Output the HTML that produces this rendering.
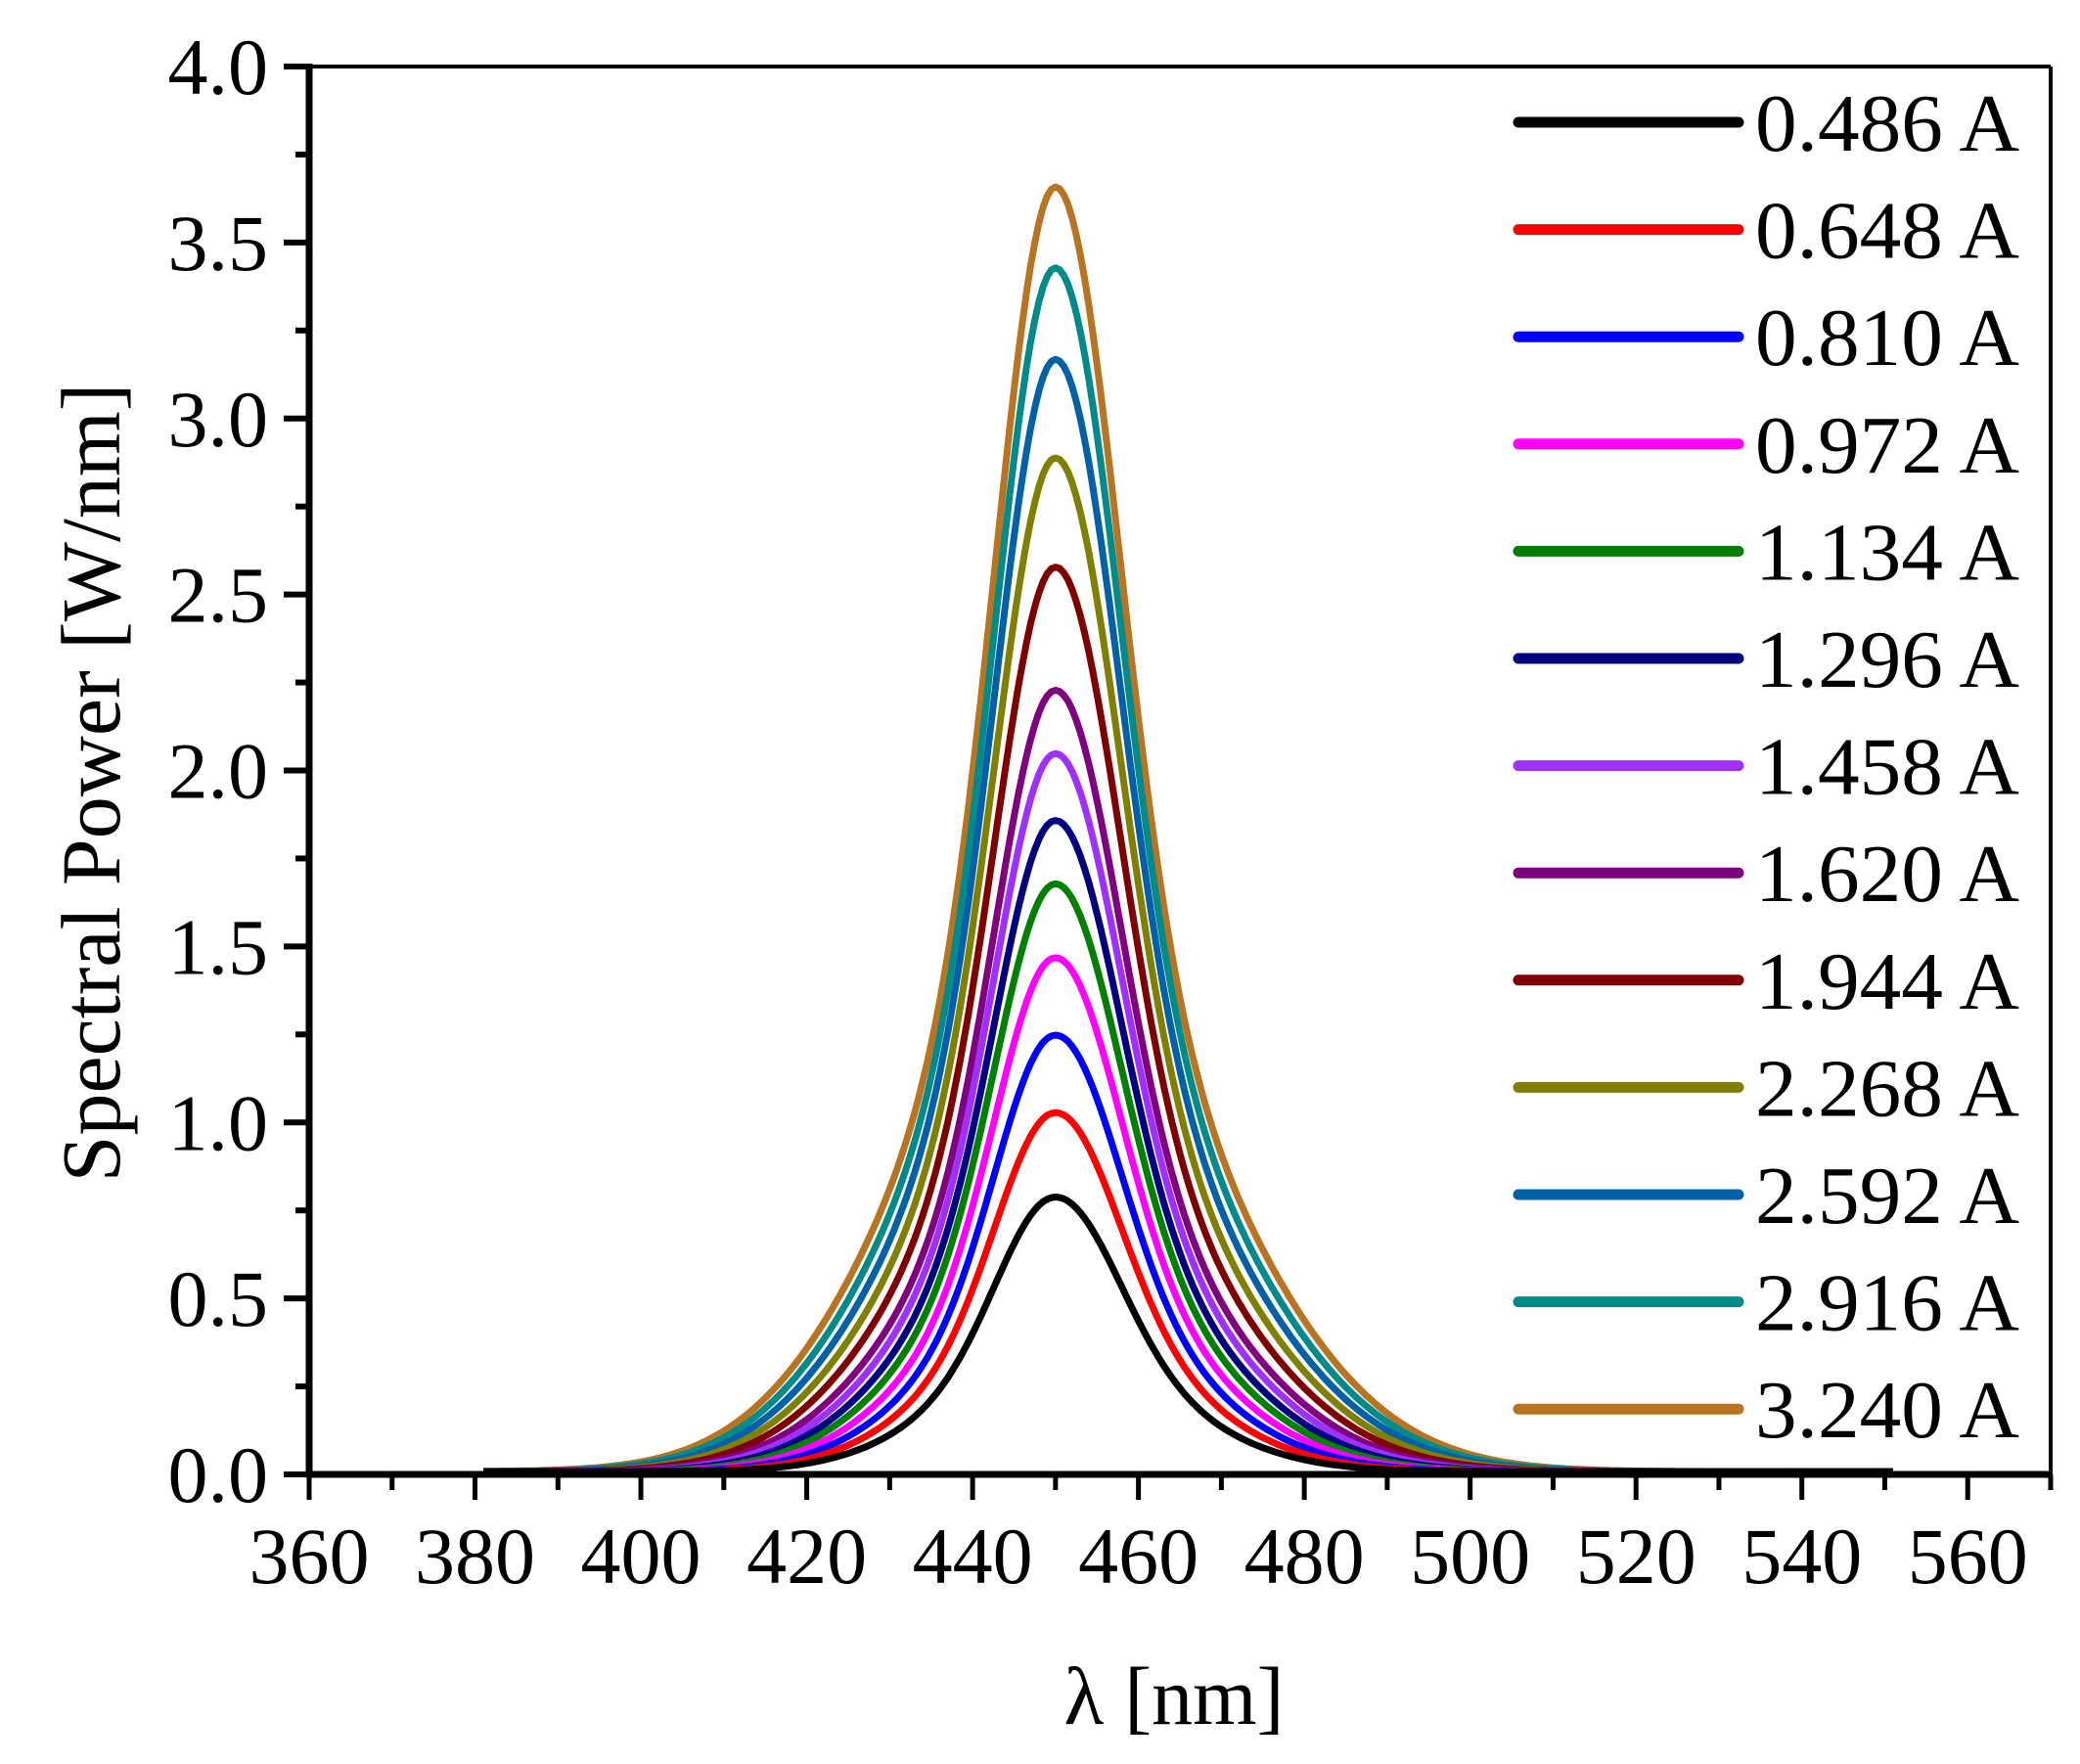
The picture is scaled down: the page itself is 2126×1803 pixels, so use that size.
<!DOCTYPE html>
<html><head><meta charset="utf-8"><style>
html,body{margin:0;padding:0;background:#fff}
svg{display:block}
text{font-family:"Liberation Serif",serif;fill:#000}
</style></head><body>
<svg id="s" width="2126" height="1803" viewBox="0 0 2126 1803" xmlns="http://www.w3.org/2000/svg">
<g id="curves"></g>
<g id="axes"></g>
<text x="1200" y="1762" font-size="84" text-anchor="middle">λ [nm]</text>
<text transform="translate(122,800) rotate(-90)" font-size="86" text-anchor="middle">Spectral Power [W/nm]</text>
<g id="legend"></g>
</svg>
<script>
const L=316,R=2096,T=68,B=1507;
const X=v=>L+(v-360)/210*(R-L), Y=v=>B-v/4*(B-T);
const ns="http://www.w3.org/2000/svg";
function el(p,t,a,txt){const e=document.createElementNS(ns,t);for(const k in a)e.setAttribute(k,a[k]);if(txt!==undefined)e.textContent=txt;p.appendChild(e);return e;}
const ax=document.getElementById('axes');
el(ax,'line',{x1:L,y1:T,x2:R,y2:T,stroke:'#000','stroke-width':4});
el(ax,'line',{x1:R,y1:T,x2:R,y2:B,stroke:'#000','stroke-width':4});
el(ax,'line',{x1:L,y1:T-3,x2:L,y2:B+3,stroke:'#000','stroke-width':7});
el(ax,'line',{x1:L-3,y1:B,x2:R+2,y2:B,stroke:'#000','stroke-width':7});
for(let i=0;i<=16;i++){const v=i*0.25,y=Y(v),maj=i%2==0;
 el(ax,'line',{x1:L-(maj?26:14),y1:y,x2:L,y2:y,stroke:'#000','stroke-width':6});
 if(maj)el(ax,'text',{x:274,y:y+28,'font-size':82,'text-anchor':'end'},v.toFixed(1));}
for(let i=0;i<=21;i++){const v=360+i*10,x=X(v),maj=i%2==0;
 el(ax,'line',{x1:x,y1:B,x2:x,y2:B+(maj?26:16),stroke:'#000','stroke-width':5});
 if(maj)el(ax,'text',{x:x,y:1618,'font-size':82,'text-anchor':'middle'},String(v));}
const ser=[["0.486 A","#000000",0.78],["0.648 A","#ff0000",1.02],["0.810 A","#0000ff",1.24],["0.972 A","#ff00ff",1.46],["1.134 A","#008000",1.67],["1.296 A","#000080",1.85],["1.458 A","#a030ff",2.04],["1.620 A","#800080",2.22],["1.944 A","#800000",2.57],["2.268 A","#808000",2.88],["2.592 A","#0060a8",3.16],["2.916 A","#008b8b",3.42],["3.240 A","#b87420",3.65]];
const cg=document.getElementById('curves'),lg=document.getElementById('legend');
const G=(d,w)=>Math.exp(-(d/w)*(d/w)*0.693);
for(let k=ser.length-1;k>=0;k--){const [n,c,A]=ser[k];const w2=15.5+k*0.45;
 let d="";for(let x=381;x<=551;x+=0.5){const dx=x-450;const s=dx<0?1:1.08;
  let f=A*(0.6*G(dx,8*s)+0.4*G(dx,w2*s))+0.008;
  d+=(d?"L":"M")+X(x).toFixed(1)+","+Y(f).toFixed(1);}
 el(cg,'path',{d:d,fill:'none',stroke:c,'stroke-width':7,'stroke-linejoin':'round'});}
ser.forEach(([n,c],i)=>{const y=125+i*109.6;
 el(lg,'line',{x1:1552,y1:y,x2:1777,y2:y,stroke:c,'stroke-width':11,'stroke-linecap':'round'});
 el(lg,'text',{x:1794,y:y+29,'font-size':84,textLength:270,lengthAdjust:'spacingAndGlyphs'},n);});
</script>
</body></html>
